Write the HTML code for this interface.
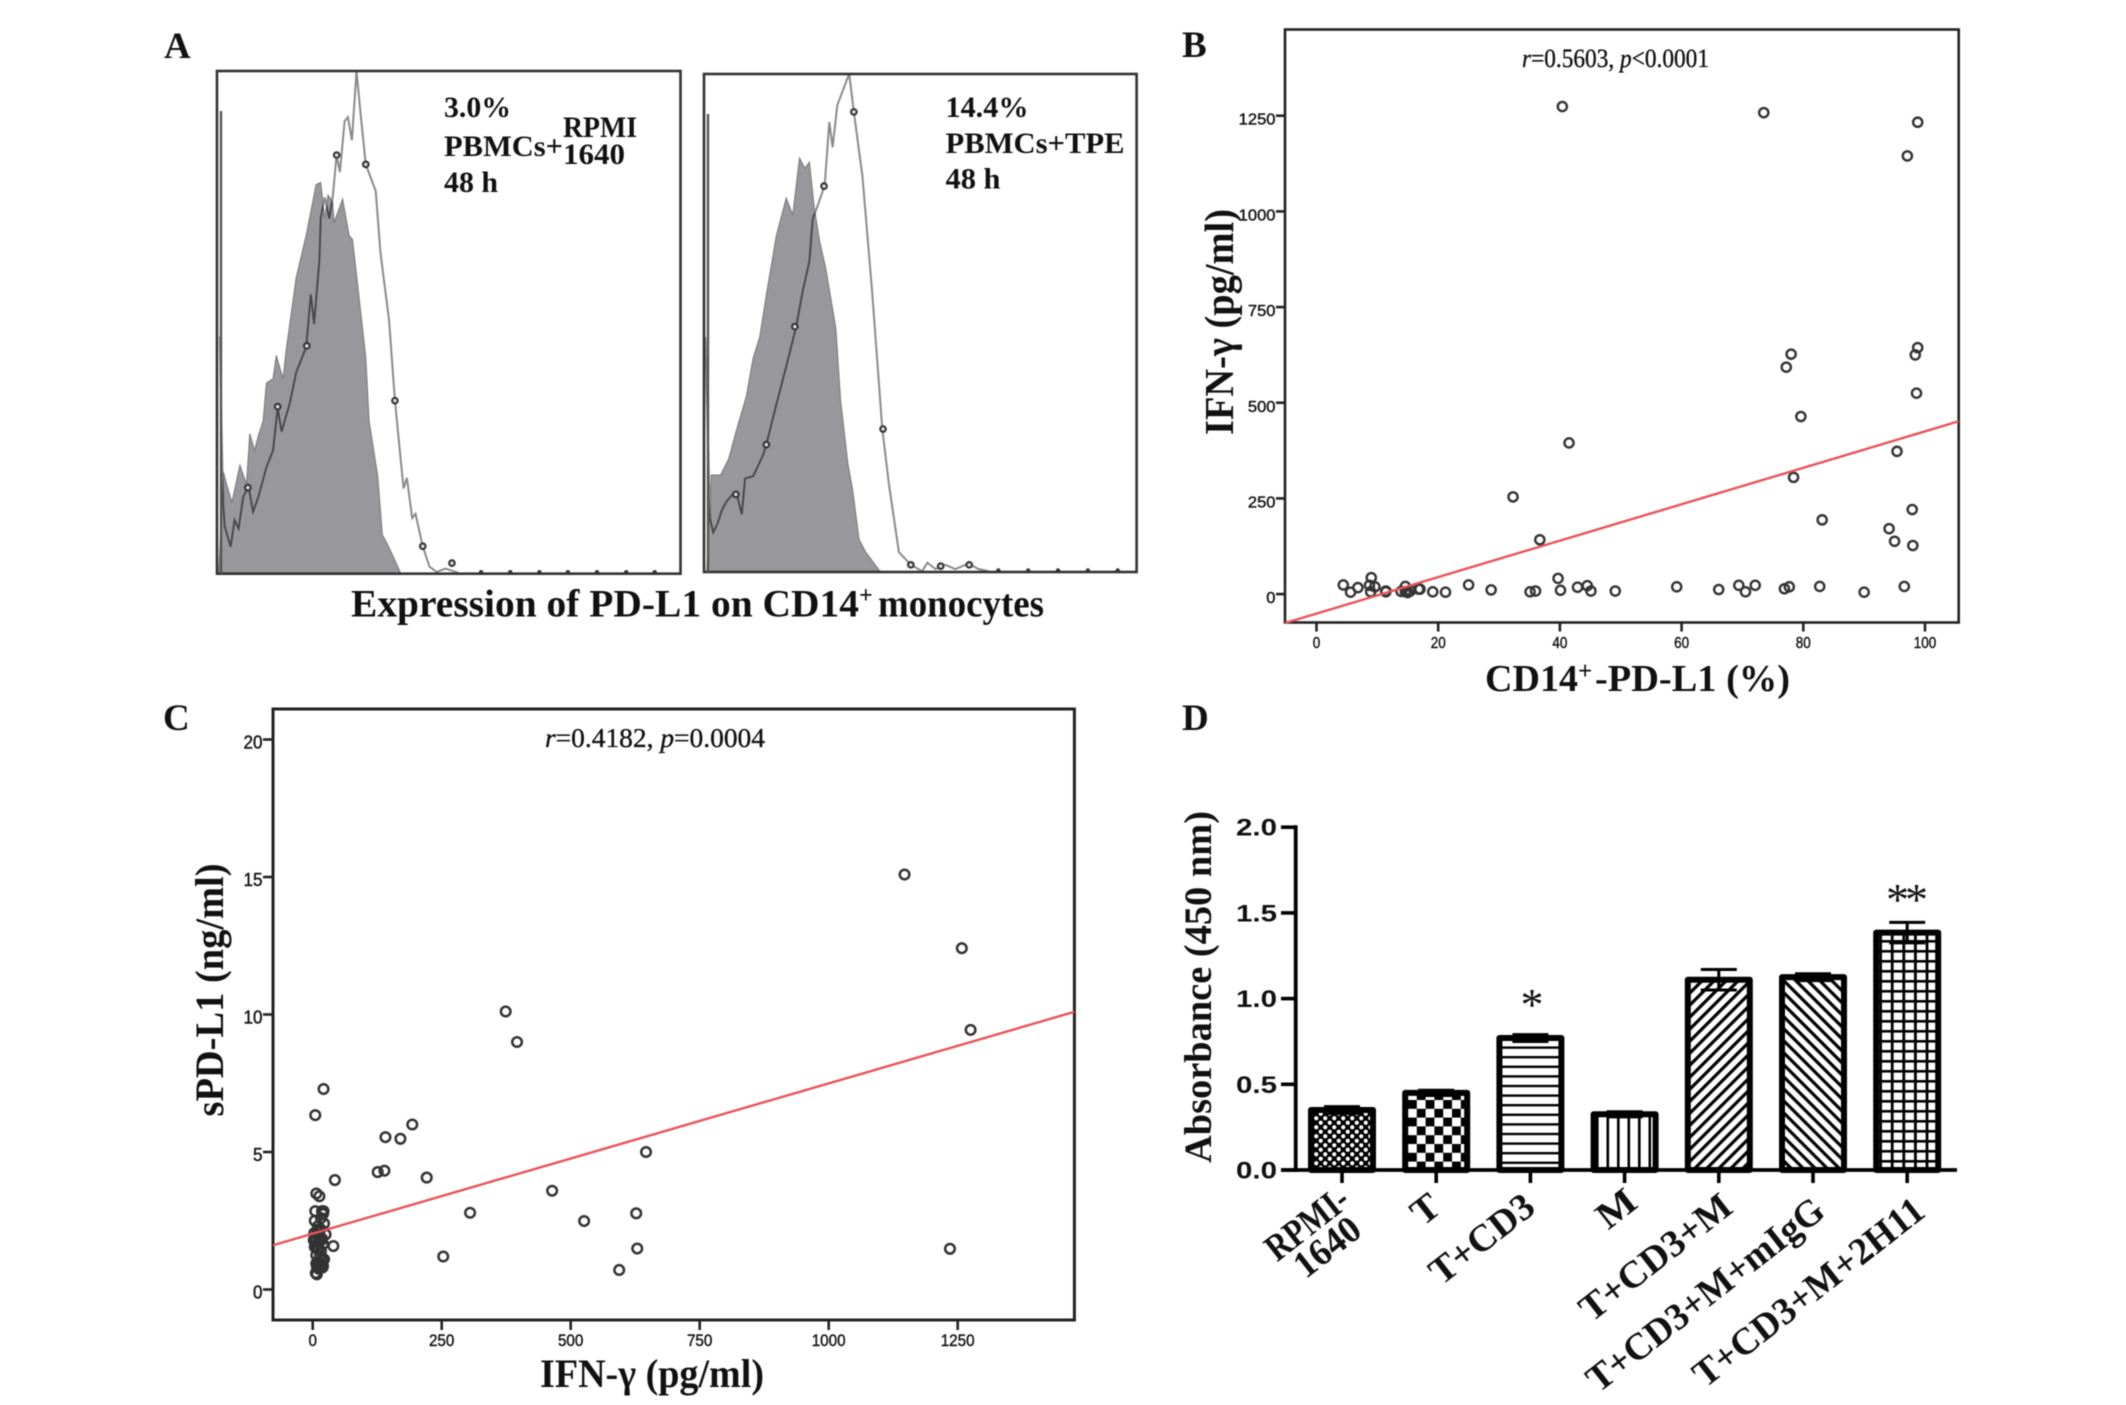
<!DOCTYPE html>
<html>
<head>
<meta charset="utf-8">
<title>PD-L1 expression figure</title>
<style>
html,body{margin:0;padding:0;background:#fff;width:2126px;height:1405px;overflow:hidden}
svg{display:block;filter:blur(0.5px)}
text{fill:#111}
.serif{font-family:"Liberation Serif",serif}
.sans{font-family:"Liberation Sans",sans-serif}
.b{font-weight:bold}
.tick{stroke:#222;stroke-width:0.45px}
.note{stroke:#111;stroke-width:0.35px}
</style>
</head>
<body>
<svg id="figure" xmlns="http://www.w3.org/2000/svg" width="2126" height="1405" viewBox="0 0 2126 1405">
<defs>
  <pattern id="pat-dots" width="9" height="9" patternUnits="userSpaceOnUse"><rect width="9" height="9" fill="#000"/><circle cx="2.25" cy="2.25" r="2.1" fill="#fff"/><circle cx="6.75" cy="6.75" r="2.1" fill="#fff"/></pattern>
  <pattern id="pat-check" width="17.6" height="17.6" patternUnits="userSpaceOnUse"><rect width="17.6" height="17.6" fill="#000"/><rect width="8.8" height="8.8" fill="#fff"/><rect x="8.8" y="8.8" width="8.8" height="8.8" fill="#fff"/></pattern>
  <pattern id="pat-horizontal" width="10" height="9.6" patternUnits="userSpaceOnUse"><rect width="10" height="9.6" fill="#fff"/><rect width="10" height="2.4" fill="#000"/></pattern>
  <pattern id="pat-vertical" width="10.5" height="10" patternUnits="userSpaceOnUse"><rect width="10.5" height="10" fill="#fff"/><rect width="2.6" height="10" fill="#000"/></pattern>
  <pattern id="pat-diag-up" width="8.5" height="8.5" patternUnits="userSpaceOnUse" patternTransform="rotate(-45)"><rect width="8.5" height="8.5" fill="#fff"/><rect width="8.5" height="3.2" fill="#000"/></pattern>
  <pattern id="pat-diag-down" width="8.5" height="8.5" patternUnits="userSpaceOnUse" patternTransform="rotate(45)"><rect width="8.5" height="8.5" fill="#fff"/><rect width="8.5" height="3.2" fill="#000"/></pattern>
  <pattern id="pat-grid" width="11.6" height="10" patternUnits="userSpaceOnUse"><rect width="11.6" height="10" fill="#fff"/><rect width="2.8" height="10" fill="#000"/><rect width="11.6" height="2.6" fill="#000"/></pattern>
</defs>

<!-- Panel letters -->
<text class="serif b" x="164" y="58" font-size="37">A</text>
<text class="serif b" x="1182" y="57" font-size="37">B</text>
<text class="serif b" x="163" y="730" font-size="37">C</text>
<text class="serif b" x="1182" y="730" font-size="37">D</text>

<g id="panelA">
  <g id="histo1"></g>
  <g id="histo2"></g>
  <text class="serif b" x="444" y="117" font-size="30" textLength="67" lengthAdjust="spacingAndGlyphs">3.0%</text>
  <text class="serif b" x="444" y="156" font-size="30" textLength="119" lengthAdjust="spacingAndGlyphs">PBMCs+</text>
  <text class="serif b" x="563" y="137" font-size="30" textLength="74" lengthAdjust="spacingAndGlyphs">RPMI</text>
  <text class="serif b" x="563" y="164" font-size="30" textLength="62" lengthAdjust="spacingAndGlyphs">1640</text>
  <text class="serif b" x="444" y="192" font-size="30" textLength="54" lengthAdjust="spacingAndGlyphs">48 h</text>
  <text class="serif b" x="945.5" y="117" font-size="30" textLength="83" lengthAdjust="spacingAndGlyphs">14.4%</text>
  <text class="serif b" x="945.5" y="153" font-size="30" textLength="179" lengthAdjust="spacingAndGlyphs">PBMCs+TPE</text>
  <text class="serif b" x="945.5" y="188.5" font-size="30" textLength="55" lengthAdjust="spacingAndGlyphs">48 h</text>
  <text class="serif b" x="351" y="616.5" font-size="39" textLength="508" lengthAdjust="spacingAndGlyphs">Expression of PD-L1 on CD14</text>
  <text class="serif b" x="859" y="603" font-size="24">+</text>
  <text class="serif b" x="878" y="616.5" font-size="39" textLength="166" lengthAdjust="spacingAndGlyphs">monocytes</text>
</g>

<g id="panelB">
  <rect x="1285" y="29.5" width="673.7" height="593" fill="#fff" stroke="#222" stroke-width="2.6"/>
  <g id="marksB"></g>
  <text class="serif note" x="1522" y="67" font-size="26" textLength="187" lengthAdjust="spacingAndGlyphs"><tspan font-style="italic">r</tspan>=0.5603, <tspan font-style="italic">p</tspan>&lt;0.0001</text>
  <text class="serif b" font-size="41" text-anchor="middle" transform="translate(1233,322) rotate(-90)" textLength="226" lengthAdjust="spacingAndGlyphs">IFN-γ (pg/ml)</text>
  <text class="serif b" x="1485" y="691" font-size="38" textLength="93" lengthAdjust="spacingAndGlyphs">CD14</text>
  <text class="serif b" x="1578" y="679" font-size="25">+</text>
  <text class="serif b" x="1595" y="691" font-size="38" textLength="195" lengthAdjust="spacingAndGlyphs">-PD-L1 (%)</text>
</g>

<g id="panelC">
  <rect x="273" y="709" width="801.4" height="611" fill="#fff" stroke="#222" stroke-width="3"/>
  <g id="marksC"></g>
  <text class="serif note" x="545" y="747" font-size="27" textLength="220" lengthAdjust="spacingAndGlyphs"><tspan font-style="italic">r</tspan>=0.4182, <tspan font-style="italic">p</tspan>=0.0004</text>
  <text class="serif b" font-size="40" text-anchor="middle" transform="translate(223,990) rotate(-90)" textLength="253" lengthAdjust="spacingAndGlyphs">sPD-L1 (ng/ml)</text>
  <text class="serif b" x="540" y="1387" font-size="40" textLength="224" lengthAdjust="spacingAndGlyphs">IFN-γ (pg/ml)</text>
</g>

<g id="panelD">
  <g id="marksD"></g>
  <text class="serif b" font-size="39" text-anchor="middle" transform="translate(1211,987) rotate(-90)" textLength="352" lengthAdjust="spacingAndGlyphs">Absorbance (450 nm)</text>
  <text class="serif" x="1532" y="1020" font-size="46" text-anchor="middle">*</text>
  <text class="serif" x="1907" y="915" font-size="46" text-anchor="middle" textLength="42">**</text>
</g>
</svg>

<script>
/* ---------- Panel A: histogram data (channel, events) ---------- */
const isotypeRpmiChannels=[3,10,15,23,35,45,50,57,63,70,75,85,90,100,105,120,135,150,157,163,168,175,177,190,200,205,213,225,230,243,250,257,263,277,277];
const isotypeRpmiEvents=[0,242,212,169,257,212,332,292,327,362,452,462,517,462,532,702,802,922,927,842,897,882,832,888,801,792,682,512,362,232,92,72,52,4,0];
const sampleRpmiChannels=[5,7,10,12,21,27,33,40,48,55,63,75,85,92,98,110,120,135,142,147,155,157,163,170,175,181,186,193,198,204,211,217,225,240,247,260,269,277,282,287,295,300,311,321,332,345,355,365];
const sampleRpmiEvents=[562,362,162,112,64,127,107,182,207,147,182,252,292,392,337,402,477,537,662,592,742,842,892,842,892,992,952,1072,1082,1027,1192,1092,970,907,762,602,412,282,202,227,132,142,65,17,4,12,7,2];
const sampleRpmiMarkerChannels=[47,92,136,181,225,269,311,355];
const sampleRpmiMarkerEvents=[204,396,540,992,970,410,65,25];
const rpmiAxisBumps=[399,443,487,530,574,618,661];

const isotypeTpeChannels=[4,11,25,37,49,64,74,84,94,109,124,134,144,152,159,166,174,184,199,206,217,224,234,244,264,267];
const isotypeTpeEvents=[0,230,230,267,337,417,507,557,657,797,887,847,982,957,972,867,787,717,577,407,257,197,77,47,5,0];
const sampleTpeChannels=[2,9,14,21,27,34,42,49,57,62,74,89,94,109,124,139,149,159,164,171,182,189,194,201,219,226,239,254,269,279,294,312,329,337,349,364,379,399,414,429];
const sampleTpeEvents=[557,127,94,117,147,167,182,187,137,222,227,277,302,397,487,582,667,737,837,867,917,1067,1007,1107,1182,1092,937,657,339,207,47,17,2,22,7,17,7,20,7,2];
const sampleTpeMarkerChannels=[48,94,137,181,226,270,312,357,400];
const sampleTpeMarkerEvents=[184,302,582,915,1091,339,17,14,17];
const tpeAxisBumps=[444,489,534,579,624];

/* ---------- Panel B data ---------- */
const bPercent=[40.4,73.5,98.8,97.1,98.8,98.4,78.0,77.2,98.6,79.6,41.5,95.4,78.4,32.3,97.9,83.1,94.1,95.0,98.0,36.7,4.4,5.6,6.8,9.0,8.7,9.6,8.9,11.4,11.4,14.6,13.9,14.6,15.4,15.0,16.8,17.0,19.1,21.2,25.0,28.7,35.1,36.0,39.7,40.1,42.9,44.5,45.1,49.1,59.2,66.1,69.4,70.5,72.1,76.9,77.7,82.7,90.0,96.6];
const bIfn=[1274,1258,1233,1145,644,625,627,593,525,464,395,373,305,254,221,194,171,138,127,142,24,5,17,43,23,19,6,8,6,20,7,6,8,4,13,13,6,5,24,11,6,8,41,10,18,22,8,8,19,12,23,6,23,14,19,20,5,20];
const bFit=[-50.8,4.76];
const bXTicks=[0,20,40,60,80,100];
const bYTicks=[0,250,500,750,1000,1250];

/* ---------- Panel C data ---------- */
const cIfn=[1147,1258,1275,1235,374,396,21,5,193,141,170,646,126,139,221,43,464,305,627,526,629,594,253,40,7,13,5,18,20,4,22,10,25,3,8,14,2,6,12,20,4,9,16,7,22,10,16,20,8,14,19,6,8,12,5,15,11,18,16,21,9,13,6,17,11,19,7,14];
const cSpd=[15.09,12.41,9.44,1.48,10.11,9.0,7.29,6.34,6.0,5.54,5.48,5.0,4.27,4.32,4.07,3.98,3.59,2.79,2.77,2.49,1.49,0.71,1.2,1.58,3.49,3.39,2.85,2.85,2.75,2.5,2.4,2.3,2.0,2.05,2.0,1.9,1.8,1.75,1.7,1.65,1.55,1.5,1.4,1.25,1.1,1.0,0.95,0.85,0.85,0.8,0.8,0.6,0.55,0.75,1.9,2.2,1.45,1.85,2.6,2.85,2.1,1.95,1.6,1.8,0.9,1.05,0.95,1.2];
const cFit=[2.03,0.005466];
const cXTicks=[0,250,500,750,1000,1250];
const cYTicks=[0,5,10,15,20];

/* ---------- Panel D data ---------- */
const dMeans=[0.35,0.45,0.77,0.325,1.11,1.125,1.385];
const dErrors=[0.02,0.015,0.02,0.015,0.06,0.02,0.06];
const dPatterns=['pat-dots','pat-check','pat-horizontal','pat-vertical','pat-diag-up','pat-diag-down','pat-grid'];
const dYTicks=[0,0.5,1,1.5,2];

const NS='http://www.w3.org/2000/svg';
function mk(parent,tag,attrs,content){
  const el=document.createElementNS(NS,tag);
  for(const k in attrs){el.setAttribute(k,attrs[k]);}
  if(content!==undefined){el.textContent=content;}
  parent.appendChild(el);
  return el;
}
function poly(xs,ys,fx,fy){
  return xs.map(function(v,i){return (i?'L':'M')+fx(v).toFixed(1)+' '+fy(ys[i]).toFixed(1);}).join(' ');
}

/* ---------- draw histograms ---------- */
function drawHistogram(g,id,fx,fy,frame,isoX,isoY,lineX,lineY,markX,markY,bumps){
  const svg=document.getElementById('figure');
  const defs=svg.querySelector('defs');
  const fillPath=poly(isoX,isoY,fx,fy)+' Z';
  const clip=mk(defs,'clipPath',{id:'clip-'+id});
  mk(clip,'path',{d:fillPath});

  const fill=mk(g,'path',{d:fillPath,fill:'#98979c',stroke:'#77767a','stroke-width':1});
  
  

  const outerLine=mk(g,'path',{d:poly(lineX,lineY,fx,fy),fill:'none',stroke:'#8a8a8a','stroke-width':2});
  
  

  const innerLine=mk(g,'path',{d:poly(lineX,lineY,fx,fy),fill:'none',stroke:'#45454a','stroke-width':1.8,'clip-path':'url(#clip-'+id+')'});
  
  

  const box=mk(g,'rect',{x:frame[0],y:frame[1],width:frame[2]-frame[0],height:frame[3]-frame[1],fill:'none',stroke:'#333','stroke-width':2.6});
  
  

  const leftEdge=mk(g,'line',{x1:frame[0]+4,y1:frame[1]+40,x2:frame[0]+4,y2:frame[3],stroke:'#555','stroke-width':2.4});
  
  

  markX.forEach(function(c,i){
    const m=mk(g,'circle',{cx:fx(c),cy:fy(markY[i]),r:2.8,fill:'#ddd',stroke:'#333','stroke-width':2.1});
    
    
  });
  bumps.forEach(function(c){
    const b=mk(g,'circle',{cx:fx(c),cy:frame[3]-1.5,r:2.2,fill:'#333'});
    
    
  });
}
const x1=function(c){return 216.7+c*0.6626;};
const y1=function(e){return 573.7-e*0.422;};
const x2=function(c){return 704+c*0.663;};
const y2=function(e){return 572-e*0.4217;};
drawHistogram(document.getElementById('histo1'),'h1',x1,y1,[217,71,680.5,573.7],isotypeRpmiChannels,isotypeRpmiEvents,sampleRpmiChannels,sampleRpmiEvents,sampleRpmiMarkerChannels,sampleRpmiMarkerEvents,rpmiAxisBumps);
drawHistogram(document.getElementById('histo2'),'h2',x2,y2,[704,74,1136.6,572],isotypeTpeChannels,isotypeTpeEvents,sampleTpeChannels,sampleTpeEvents,sampleTpeMarkerChannels,sampleTpeMarkerEvents,tpeAxisBumps);

/* ---------- scatter helper ---------- */
function drawScatter(g,fx,fy,frame,xs,ys,fit,xTicks,yTicks,cfg){
  const invX=function(px){return (px-fx(0))/(fx(1)-fx(0));};
  const lineLeft=invX(frame[0]);
  const lineRight=invX(frame[2]);
  xTicks.forEach(function(t){
    const tk=mk(g,'line',{x1:fx(t),y1:frame[3],x2:fx(t),y2:frame[3]+cfg.tickLen,stroke:'#222','stroke-width':2.6});
    
    
    const s=String(t);
    const lb=mk(g,'text',{x:fx(t),y:cfg.xLabelY,'text-anchor':'middle','font-size':cfg.xFont,class:'sans tick',textLength:s.length*cfg.xDigit,lengthAdjust:'spacingAndGlyphs'},s);
    
    
  });
  yTicks.forEach(function(t){
    const tk=mk(g,'line',{x1:frame[0]-cfg.tickLen,y1:fy(t),x2:frame[0],y2:fy(t),stroke:'#222','stroke-width':2.6});
    
    
    const s=String(t);
    const lb=mk(g,'text',{x:frame[0]-cfg.tickLen-0.5,y:fy(t)+cfg.yLabelDy,'text-anchor':'end','font-size':cfg.yFont,class:'sans tick',textLength:s.length*cfg.yDigit,lengthAdjust:'spacingAndGlyphs'},s);
    
    
  });
  xs.forEach(function(v,i){
    const p=mk(g,'circle',{cx:fx(v),cy:fy(ys[i]),r:cfg.r,fill:'none',stroke:'#333','stroke-width':cfg.sw});
    
    
  });
  const reg=mk(g,'line',{x1:fx(lineLeft),y1:fy(fit[0]+fit[1]*lineLeft),x2:fx(lineRight),y2:fy(fit[0]+fit[1]*lineRight),stroke:'#e8545a','stroke-width':2.4});
  
  
}
const xB=function(v){return 1316.5+6.085*v;};
const yB=function(v){return 594.1-0.3827*v;};
drawScatter(document.getElementById('marksB'),xB,yB,[1285,29.5,1958.7,622.5],bPercent,bIfn,bFit,bXTicks,bYTicks,{tickLen:9,xLabelY:648,xFont:16,xDigit:7.5,yFont:16,yDigit:9.2,yLabelDy:9,r:4.6,sw:2.4});

const xC=function(v){return 312.7+0.516*v;};
const yC=function(v){return 1289.5-27.5*v;};
drawScatter(document.getElementById('marksC'),xC,yC,[273,709,1074.4,1320],cIfn,cSpd,cFit,cXTicks,cYTicks,{tickLen:10,xLabelY:1346,xFont:17,xDigit:8.5,yFont:18,yDigit:9.5,yLabelDy:9,r:4.8,sw:2.5});

/* ---------- bar chart ---------- */
const gD=document.getElementById('marksD');
const xD=function(i){return 1342+94.2*i;};
const yD=function(v){return 1170-171.4*v;};
dMeans.forEach(function(m,i){
  const cx=xD(i);
  const hi=m+dErrors[i];
  const lo=m-dErrors[i];
  const bar=mk(gD,'rect',{x:cx-31,y:yD(m),width:62,height:yD(0)-yD(m),fill:'url(#'+dPatterns[i]+')',stroke:'#000','stroke-width':6,'stroke-linejoin':'round'});
  
  
  const stem=mk(gD,'line',{x1:cx,y1:yD(hi),x2:cx,y2:yD(lo),stroke:'#000','stroke-width':3});
  
  
  const capTop=mk(gD,'line',{x1:cx-18,y1:yD(hi),x2:cx+18,y2:yD(hi),stroke:'#000','stroke-width':3});
  
  
  const capLow=mk(gD,'line',{x1:cx-18,y1:yD(lo),x2:cx+18,y2:yD(lo),stroke:'#000','stroke-width':3});
  
  
  const tick=mk(gD,'line',{x1:cx,y1:1170,x2:cx,y2:1183,stroke:'#000','stroke-width':3.6});
  
  
});
const yAxisD=mk(gD,'line',{x1:1295.7,y1:yD(2)-2,x2:1295.7,y2:1172,stroke:'#000','stroke-width':3.8});


const xAxisD=mk(gD,'line',{x1:1281,y1:1170,x2:1957,y2:1170,stroke:'#000','stroke-width':3.8});


dYTicks.forEach(function(t){
  const tk=mk(gD,'line',{x1:1281,y1:yD(t),x2:1296,y2:yD(t),stroke:'#000','stroke-width':3.6});
  
  
  const lb=mk(gD,'text',{x:1277,y:yD(t)+8.5,'text-anchor':'end','font-size':24,class:'sans b',textLength:41,lengthAdjust:'spacingAndGlyphs'},t.toFixed(1));
  
  
});

/* rotated category labels */
const dLabels=['RPMI-','1640','T','T+CD3','M','T+CD3+M','T+CD3+M+mIgG','T+CD3+M+2H11'];
const dLabelSlots=[0,0,1,2,3,4,5,6];
const dLabelOffsets=[10,22,7,7,15,16,14,20];
const dLabelDrops=[34,64,41,41,36,41,45,45];
const dLabelLengths=[95,74,26,122,40,182,290,282];
dLabels.forEach(function(s,i){
  const ax=xD(dLabelSlots[i])+dLabelOffsets[i];
  const ay=1170+dLabelDrops[i];
  const lb=mk(gD,'text',{'text-anchor':'end','font-size':38,class:'serif b',transform:'translate('+ax+','+ay+') rotate(-38)',textLength:dLabelLengths[i],lengthAdjust:'spacingAndGlyphs'},s);
  
  
});
</script>
</body>
</html>
